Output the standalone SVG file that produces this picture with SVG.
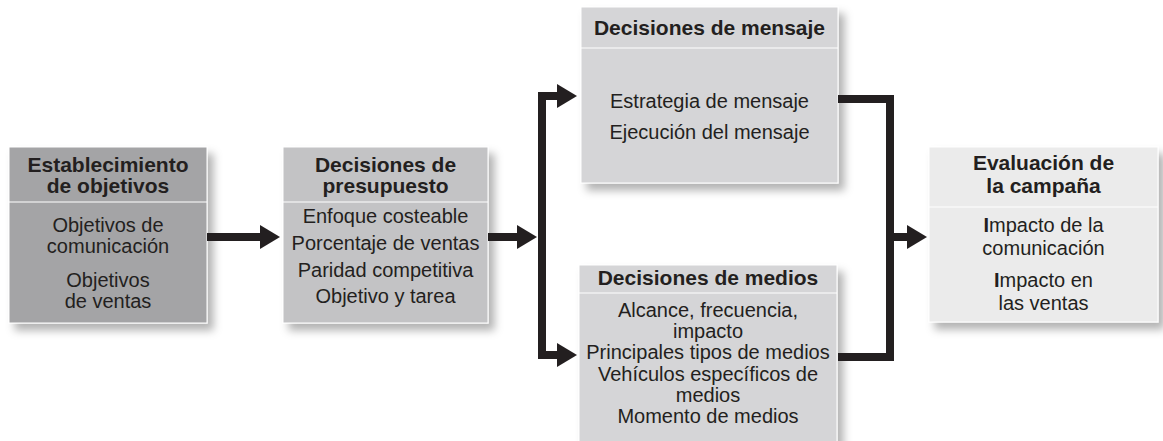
<svg xmlns="http://www.w3.org/2000/svg" width="1163" height="441" viewBox="0 0 1163 441">
<defs>
<filter id="sh" x="-10%" y="-10%" width="130%" height="130%">
<feGaussianBlur in="SourceAlpha" stdDeviation="4"/>
<feOffset dx="6" dy="7" result="b"/>
<feFlood flood-color="#000" flood-opacity="0.3"/>
<feComposite in2="b" operator="in" result="s"/>
<feMerge><feMergeNode in="s"/><feMergeNode in="SourceGraphic"/></feMerge>
</filter>
<marker id="ah" markerUnits="userSpaceOnUse" markerWidth="20" markerHeight="24" viewBox="0 0 20 24" refX="0" refY="12" orient="auto-start-reverse">
<path d="M0,0 L20,12 L0,24 z" fill="#231f20"/>
</marker>
</defs>
<style>
.box{stroke:#fff;stroke-width:1}
.div{stroke:#fff;stroke-width:1.2}
.h{font-family:"Liberation Sans",Arial,sans-serif;font-weight:bold;font-size:21px;fill:#231f20;text-anchor:middle}
.t{font-family:"Liberation Sans",Arial,sans-serif;font-size:20px;fill:#231f20;text-anchor:middle}
.c{fill:none;stroke:#231f20;stroke-width:8;stroke-linejoin:miter;stroke-linecap:butt}
</style>
<rect width="1163" height="441" fill="#fff"/>

<g id="objetivos">
<g filter="url(#sh)">
<rect class="box" x="9" y="147" width="198" height="176" fill="#a4a4a6"/>
</g>
<line class="div" x1="9" y1="202" x2="207" y2="202"/>
<text class="h" x="108" y="172">Establecimiento</text>
<text class="h" x="108" y="193">de objetivos</text>
<text class="t" x="108" y="232">Objetivos de</text>
<text class="t" x="108" y="253">comunicación</text>
<text class="t" x="108" y="287">Objetivos</text>
<text class="t" x="108" y="308">de ventas</text>
</g>

<g id="presupuesto">
<g filter="url(#sh)">
<rect class="box" x="283" y="147" width="205" height="176" fill="#c3c3c5"/>
</g>
<line class="div" x1="283" y1="202" x2="488" y2="202"/>
<text class="h" x="385.5" y="172">Decisiones de</text>
<text class="h" x="385.5" y="193">presupuesto</text>
<text class="t" x="385.5" y="223">Enfoque costeable</text>
<text class="t" x="385.5" y="250">Porcentaje de ventas</text>
<text class="t" x="385.5" y="277">Paridad competitiva</text>
<text class="t" x="385.5" y="303">Objetivo y tarea</text>
</g>

<g id="mensaje">
<g filter="url(#sh)">
<rect class="box" x="581" y="7" width="257" height="176" fill="#d5d5d7"/>
</g>
<line class="div" x1="581" y1="48" x2="838" y2="48"/>
<text class="h" x="709.5" y="35">Decisiones de mensaje</text>
<text class="t" x="709.5" y="108">Estrategia de mensaje</text>
<text class="t" x="709.5" y="139">Ejecución del mensaje</text>
</g>

<g id="medios">
<g filter="url(#sh)">
<rect class="box" x="579" y="265" width="258" height="190" fill="#d5d5d7"/>
</g>
<line class="div" x1="579" y1="293" x2="837" y2="293"/>
<text class="h" x="708" y="285">Decisiones de medios</text>
<text class="t" x="708" y="316.5">Alcance, frecuencia,</text>
<text class="t" x="708" y="338">impacto</text>
<text class="t" x="708" y="359">Principales tipos de medios</text>
<text class="t" x="708" y="380.5">Vehículos específicos de</text>
<text class="t" x="708" y="402">medios</text>
<text class="t" x="708" y="423">Momento de medios</text>
</g>

<g id="evaluacion">
<g filter="url(#sh)">
<rect class="box" x="929" y="147" width="229" height="175" fill="#ebebeb"/>
</g>
<line class="div" x1="929" y1="207" x2="1158" y2="207"/>
<text class="h" x="1043.5" y="170">Evaluación de</text>
<text class="h" x="1043.5" y="193">la campaña</text>
<text class="t" x="1043.5" y="232"><tspan font-weight="bold">I</tspan>mpacto de la</text>
<text class="t" x="1043.5" y="255">comunicación</text>
<text class="t" x="1043.5" y="287"><tspan font-weight="bold">I</tspan>mpacto en</text>
<text class="t" x="1043.5" y="310">las ventas</text>
</g>

<g id="connectors">
<path class="c" d="M207,237 H260" marker-end="url(#ah)"/>
<path class="c" d="M488,237 H517" marker-end="url(#ah)"/>
<path class="c" d="M557,96 H542 V355 H557" marker-start="url(#ah)" marker-end="url(#ah)"/>
<path class="c" d="M838,99 H890 V357 H838"/>
<path class="c" d="M890,237 H907" marker-end="url(#ah)"/>
</g>
</svg>
